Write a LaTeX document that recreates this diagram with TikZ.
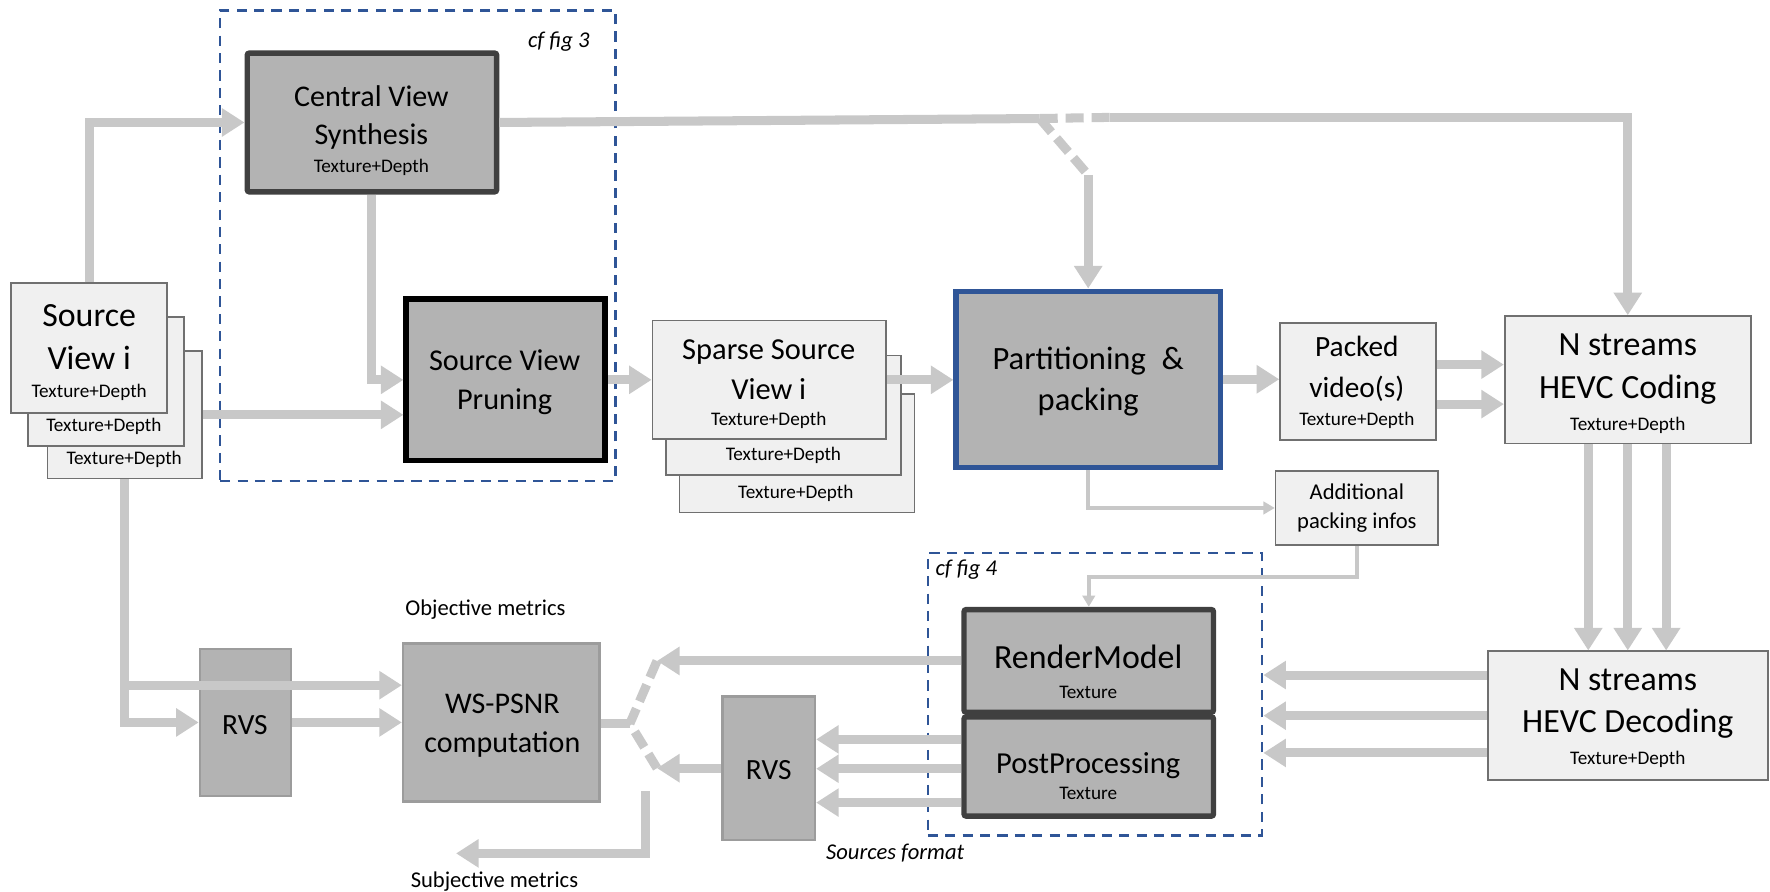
\documentclass[tikz,border=0pt]{standalone}
\usepackage{fontspec}
\setmainfont{Carlito}
\usetikzlibrary{arrows.meta,fit,calc}

\definecolor{arrowgray}{HTML}{C8C8C8}
\definecolor{lightfill}{HTML}{F0F0F0}
\definecolor{lightline}{HTML}{707070}
\definecolor{midfill}{HTML}{B3B3B3}
\definecolor{midline}{HTML}{9C9C9C}
\definecolor{darkline}{HTML}{404040}
\definecolor{cfblue}{HTML}{2F5597}

\tikzset{
  lightbox/.style={draw=lightline, fill=lightfill, line width=0.75pt, inner sep=0pt},
  darkbox/.style={draw=darkline, fill=midfill, line width=2.4pt, inner sep=0pt, rounded corners=1pt},
  blackbox/.style={draw=black, fill=midfill, line width=2.6pt, inner sep=0pt},
  bluebox/.style={draw=cfblue, fill=midfill, line width=2.4pt, inner sep=0pt},
  midbox/.style={draw=midline, fill=midfill, line width=1pt, inner sep=0pt},
  cfframe/.style={draw=cfblue, line width=1.2pt, dash pattern=on 4.5pt off 3.2pt, inner sep=0pt},
  txt/.style={align=center, inner sep=0pt, text=black},
  td/.style={txt, font=\fontsize{8.5}{10}\selectfont},
  note/.style={txt, font=\fontsize{10}{12}\selectfont},
  inote/.style={txt, font=\fontsize{10}{12}\selectfont\itshape},
  bigarrow/.style={draw=arrowgray, line width=4pt, -{Triangle[width=12pt,length=10pt]}},
  bigline/.style={draw=arrowgray, line width=4pt},
  switchdash/.style={draw=arrowgray, line width=4pt, dash pattern=on 8pt off 3.5pt},
  thinarrow/.style={draw=arrowgray, line width=1.6pt, -{Triangle[width=5.5pt,length=5pt]}},
}

\begin{document}
\begin{tikzpicture}[x=0.5pt,y=-0.5pt]
\useasboundingbox (0,0) rectangle (1568,790);
\fill[white] (0,0) rectangle (1568,790);

% ---------- dashed groups ----------
\node[cfframe, fit={(195,9)(545,426)}] (cf3) {};
\node[inote] (cf3t) at (495,37) {cf fig 3};
\node[cfframe, fit={(822,490)(1118,740)}] (cf4) {};
\node[inote] (cf4t) at (856,505) {cf fig 4};

% ---------- encoder side ----------
% source views (stack)
\node[lightbox, fit={(42,311)(179,424)}] (src3) {};
\node[lightbox, fit={(25,281)(163,395)}] (src2) {};
\node[lightbox, fit={(10,251)(148,366)}] (src1) {};
\node[txt, font=\fontsize{15}{19}\selectfont] (src1t) at (79,299) {Source\\View i};
\node[td] (src1d) at (79,348) {Texture+Depth};
\node[td] (src2d) at (92,378) {Texture+Depth};
\node[td] (src3d) at (110,407) {Texture+Depth};

% central view synthesis
\node[darkbox, fit={(219,47)(440,170)}] (cvs) {};
\node[txt, font=\fontsize{13.3}{17}\selectfont] (cvst) at (329,104) {Central View\\Synthesis};
\node[td] (cvsd) at (329,148) {Texture+Depth};

% pruning
\node[blackbox, fit={(360,265)(536,408)}] (svp) {};
\node[txt, font=\fontsize{13.4}{17.5}\selectfont] (svpt) at (447,338.5) {Source View\\Pruning};

% sparse source views (stack)
\node[lightbox, fit={(602,349)(810,454)}] (sp3) {};
\node[lightbox, fit={(590,315)(798,421)}] (sp2) {};
\node[lightbox, fit={(578,284)(785,389)}] (sp1) {};
\node[txt, font=\fontsize{13.5}{17.5}\selectfont] (sp1t) at (681,327.5) {Sparse Source\\View i};
\node[td] (sp1d) at (681,372) {Texture+Depth};
\node[td] (sp2d) at (694,403) {Texture+Depth};
\node[td] (sp3d) at (705,437) {Texture+Depth};

% partitioning & packing
\node[bluebox, fit={(847,258)(1081,414)}] (pp) {};
\node[txt, font=\fontsize{14.4}{18}\selectfont] (ppt) at (964,338) {Partitioning\hspace{7pt}\&\\packing};

% packed video
\node[lightbox, fit={(1134,286)(1272,390)}] (pv) {};
\node[txt, font=\fontsize{13}{18}\selectfont] (pvt) at (1202,327) {Packed\\video(s)};
\node[td] (pvd) at (1202,372) {Texture+Depth};

% HEVC coding
\node[lightbox, fit={(1333,280)(1551,393)}] (hc) {};
\node[txt, font=\fontsize{15}{19}\selectfont] (hct) at (1442,327) {N streams\\HEVC Coding};
\node[td] (hcd) at (1442,377) {Texture+Depth};

% additional packing infos
\node[lightbox, fit={(1130,417)(1274,483)}] (api) {};
\node[txt, font=\fontsize{10}{13}\selectfont] (apit) at (1202,450) {Additional\\packing infos};

% ---------- decoder side ----------
\node[lightbox, fit={(1318,577)(1566,691)}] (hd) {};
\node[txt, font=\fontsize{15}{18.5}\selectfont] (hdt) at (1442,623.5) {N streams\\HEVC Decoding};
\node[td] (hdd) at (1442,673) {Texture+Depth};

\node[darkbox, fit={(854,540)(1075,631)}] (rm) {};
\node[txt, font=\fontsize{15}{18}\selectfont] (rmt) at (964,582) {RenderModel};
\node[td] (rmd) at (964,613) {Texture};

\node[darkbox, fit={(854,635)(1075,723)}] (pp2) {};
\node[txt, font=\fontsize{13.5}{18}\selectfont] (pp2t) at (964,678) {PostProcessing};
\node[td] (pp2d) at (964,703) {Texture};

\node[midbox, fit={(640,617)(722,744)}] (rvs2) {};
\node[txt, font=\fontsize{13}{16}\selectfont] (rvs2t) at (681,682) {RVS};

\node[midbox, fit={(177,575)(258,705)}] (rvs1) {};
\node[txt, font=\fontsize{13}{16}\selectfont] (rvs1t) at (217,642) {RVS};

\node[midbox, fit={(357,570)(531,710)}] (ws) {};
\node[txt, font=\fontsize{13.3}{17}\selectfont] (wst) at (445,643) {WS-PSNR\\computation};

\node[note] (obj) at (430,540) {Objective metrics};
\node[note] (subjt) at (438,781) {Subjective metrics};
\node[inote] (srcfmt) at (793,756) {Sources format};

% ---------- switch points ----------
\coordinate (sw1) at (921,105);
\coordinate (sw1r) at (983,104);
\coordinate (sw1d) at (964,155);
\coordinate (sw2) at (558,641);
\coordinate (sw2t) at (rm.west -| 582,0);
\coordinate (sw2b) at (rvs2.west -| 582,0);
\coordinate (subj) at (572,701);
\coordinate (subjend) at (404,756);

% ---------- connectors ----------
\draw[bigarrow] (src1.north) |- (cvs.west);
\draw[bigarrow] (cvs.south) |- (svp.west);
\draw[bigarrow] (src3.east) -- (src3.east -| svp.west);
\draw[bigarrow] (svp.east) -- (svp.east -| sp1.west);
\draw[bigarrow] (sp1.east) -- (sp1.east -| pp.west);
\draw[bigarrow] (pp.east) -- (pp.east -| pv.west);
\draw[bigarrow] (pv.east |- 0,323) -- (hc.west |- 0,323);
\draw[bigarrow] (pv.east |- 0,358) -- (hc.west |- 0,358);

\draw[bigline] (cvs.east) -- (sw1);
\draw[switchdash] (sw1) -- (sw1r);
\draw[switchdash] (sw1) -- (sw1d);
\draw[bigarrow] (sw1r) -| (hc.north);
\draw[bigarrow] (sw1d) -- (pp.north);

\draw[thinarrow] (pp.south) |- (api.west);
\draw[thinarrow] (api.south) |- (rm.north |- 0,511) -- (rm.north);

\foreach \dx in {-35,0,34}
  \draw[bigarrow] ($(hc.south)+(\dx,0)$) -- ($(hd.north)+(\dx,0)$);
\foreach \yy in {598,634,667}
  \draw[bigarrow] (hd.west |- 0,\yy) -- (cf4.east |- 0,\yy);

\draw[bigarrow] (rm.west) -- (sw2t);
\foreach \yy in {655,681,711}
  \draw[bigarrow] (pp2.west |- 0,\yy) -- (rvs2.east |- 0,\yy);
\draw[bigarrow] (rvs2.west) -- (sw2b);
\draw[switchdash] (sw2t) -- (sw2) -- (sw2b);
\draw[bigline] (ws.east |- sw2) -- (sw2);
\draw[bigarrow] (subj) |- (subjend);

\draw[bigarrow] (src3.south) |- (rvs1.west);
\draw[bigarrow] (src3.south |- 0,607) -- (ws.west |- 0,607);
\draw[bigarrow] (rvs1.east) -- (ws.west |- rvs1.east);
\end{tikzpicture}
\end{document}
